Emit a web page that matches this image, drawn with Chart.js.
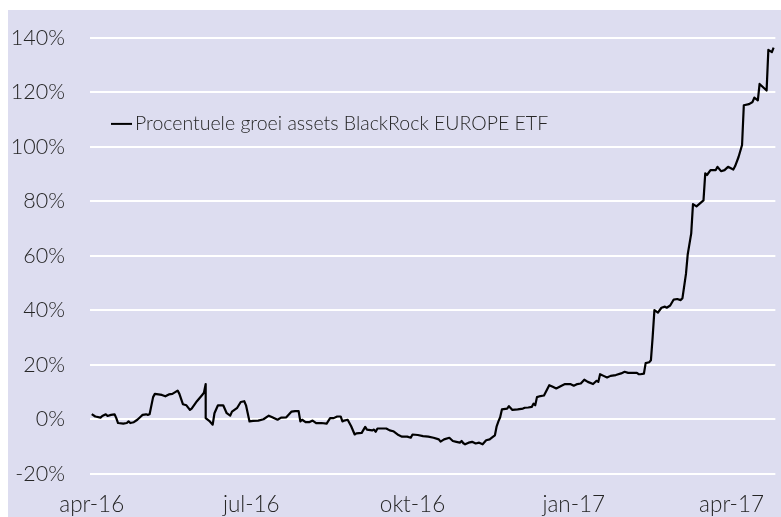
<!DOCTYPE html>
<html>
<head>
<meta charset="utf-8">
<script src="https://cdn.jsdelivr.net/npm/chart.js@4/dist/chart.umd.min.js"></script>
<style>
  html, body { margin: 0; padding: 0; background: #ffffff; }
  #wrap { width: 781px; height: 517px; }
</style>
</head>
<body>
<div id="wrap"><canvas id="c" width="781" height="517"></canvas></div>
<script>
// Days since 2016-04-01
const dayOffsets = [
  0, 2, 5, 6, 8, 9, 11, 13, 14, 15, 18, 20, 21, 22, 24, 26, 28, 29, 31, 32,
  33, 35, 36, 38, 40, 42, 44, 46, 49, 50, 52, 54, 56, 57, 60, 63, 64, 65, 65, 67,
  69, 70, 72, 75, 77, 79, 80, 83, 85, 87, 88, 90, 92, 95, 98, 101, 103, 106, 108, 111,
  114, 116, 118, 119, 120, 122, 124, 126, 128, 131, 134, 136, 138, 140, 142, 143, 144, 146, 148, 150,
  151, 154, 156, 157, 160, 161, 162, 163, 166, 168, 170, 172, 175, 177, 180, 182, 183, 186, 189, 192,
  195, 198, 199, 201, 204, 206, 208, 210, 211, 212, 213, 215, 217, 219, 221, 223, 225, 227, 229, 230,
  231, 232, 233, 234, 237, 238, 240, 243, 246, 247, 249, 251, 252, 253, 254, 256, 258, 261, 263, 265,
  268, 270, 273, 275, 277, 279, 281, 283, 286, 288, 289, 290, 292, 294, 296, 299, 302, 304, 306, 309,
  311, 312, 313, 315, 316, 318, 319, 320, 321, 323, 325, 327, 328, 330, 332, 334, 336, 337, 339, 340,
  342, 343, 345, 347, 349, 350, 351, 353, 356, 357, 359, 361, 363, 366, 367, 369, 371, 372, 375, 377,
  378, 380, 381, 383, 385, 386, 388, 389
];
// Percentage growth of assets
const growthPct = [
  2.0, 1.1, 0.7, 1.3, 1.9, 1.3, 1.7, 1.9, 0.5, -1.3, -1.5, -1.3, -0.7, -1.3, -1.0, -0.1, 1.1, 1.7, 1.9, 1.7,
  1.9, 8.2, 9.4, 9.2, 9.0, 8.5, 9.2, 9.4, 10.6, 9.4, 5.6, 5.2, 3.5, 4.0, 6.7, 9.0, 9.8, 13.0, 0.5, -0.5,
  -1.9, 2.3, 5.2, 5.2, 2.3, 1.4, 2.9, 4.3, 6.4, 6.7, 5.2, -0.7, -0.5, -0.4, 0.1, 1.4, 0.8, -0.1, 0.7, 0.8,
  2.9, 3.1, 3.1, -0.7, -0.1, -1.0, -1.0, -0.4, -1.3, -1.3, -1.5, 0.5, 0.5, 1.1, 1.1, -0.7, -0.4, -0.1, -2.5, -5.5,
  -5.1, -4.9, -2.7, -3.7, -4.0, -3.7, -4.5, -3.3, -3.3, -3.3, -4.0, -4.3, -5.7, -6.3, -6.3, -6.7, -5.5, -5.7, -6.1, -6.3,
  -6.7, -7.3, -8.1, -7.3, -6.7, -7.9, -8.2, -8.5, -7.9, -8.7, -9.1, -8.5, -8.2, -8.8, -8.5, -9.1, -7.6, -7.3, -6.3, -5.8,
  -2.5, -0.7, 0.8, 3.7, 4.0, 4.9, 3.5, 3.7, 4.0, 4.3, 4.4, 4.6, 5.8, 5.2, 8.2, 8.6, 8.8, 12.6, 12.0, 11.4,
  12.4, 13.0, 13.0, 12.4, 13.0, 13.2, 14.6, 13.8, 13.0, 14.2, 13.8, 16.6, 16.0, 15.4, 16.0, 16.3, 16.9, 17.5, 17.1, 17.1,
  17.1, 16.6, 16.6, 16.8, 20.7, 21.0, 21.7, 30.3, 40.1, 39.2, 41.0, 41.4, 41.0, 41.8, 44.0, 44.2, 43.8, 44.5, 53.4, 60.6,
  68.3, 79.0, 78.2, 79.3, 80.4, 90.3, 89.7, 91.5, 91.5, 92.7, 91.1, 91.5, 92.7, 91.7, 92.9, 96.3, 100.7, 115.3, 115.7, 116.5,
  118.1, 117.1, 123.1, 121.9, 120.7, 135.6, 134.8, 136.4
];
const tickDays = [0, 91, 183, 275, 365];
const tickLabels = ['apr-16', 'jul-16', 'okt-16', 'jan-17', 'apr-17'];
const yTicks = [-20, 0, 20, 40, 60, 80, 100, 120, 140];
const seriesLabel = 'Procentuele groei assets BlackRock EUROPE ETF';

const FONT = "Lato, 'Open Sans', 'Liberation Sans', sans-serif";
const TEXT = '#262626';
const BG = 'rgb(221,221,240)';

const bgPlugin = {
  id: 'bg',
  beforeDraw(chart) {
    const ctx = chart.ctx;
    ctx.save();
    ctx.fillStyle = '#ffffff';
    ctx.fillRect(0, 0, chart.width, chart.height);
    ctx.fillStyle = BG;
    ctx.fillRect(8, 10, chart.width - 8, chart.height - 10);
    ctx.restore();
  }
};

const legendPlugin = {
  id: 'inlineLegend',
  afterDatasetsDraw(chart) {
    const ctx = chart.ctx;
    const ca = chart.chartArea;
    const ds = chart.data.datasets[0];
    const y = ca.top + 86;
    const x0 = ca.left + 21;
    ctx.save();
    ctx.strokeStyle = ds.borderColor;
    ctx.lineWidth = 2;
    ctx.beginPath();
    ctx.moveTo(x0, y);
    ctx.lineTo(x0 + 21, y);
    ctx.stroke();
    ctx.fillStyle = TEXT;
    ctx.font = "300 19.5px " + FONT;
    ctx.textBaseline = 'middle';
    ctx.textAlign = 'left';
    ctx.fillText(ds.label, x0 + 24, y);
    ctx.restore();
  }
};

new Chart(document.getElementById('c'), {
  type: 'line',
  data: {
    datasets: [{
      label: seriesLabel,
      data: dayOffsets.map((d, i) => ({ x: d, y: growthPct[i] })),
      borderColor: '#000000',
      borderWidth: 2.2,
      pointRadius: 0,
      tension: 0,
      fill: false,
      borderJoinStyle: 'round'
    }]
  },
  options: {
    responsive: false,
    animation: false,
    devicePixelRatio: 1,
    layout: { padding: { top: 27, left: 0, right: 0, bottom: 0 } },
    plugins: { legend: { display: false }, tooltip: { enabled: false } },
    scales: {
      x: {
        type: 'linear',
        min: -1,
        max: 390,
        afterBuildTicks(axis) { axis.ticks = tickDays.map(v => ({ value: v })); },
        afterFit(axis) { axis.height = 43; },
        grid: { display: false, drawTicks: false },
        border: { display: false },
        ticks: {
          autoSkip: false,
          maxRotation: 0,
          padding: 17,
          color: TEXT,
          font: { family: FONT, size: 22.5, weight: '300' },
          callback: (v) => tickLabels[tickDays.indexOf(v)]
        }
      },
      y: {
        min: -20,
        max: 140,
        afterBuildTicks(axis) { axis.ticks = yTicks.map(v => ({ value: v })); },
        afterFit(axis) { axis.width = 90; },
        grid: { color: '#ffffff', lineWidth: 2, drawTicks: false },
        border: { display: false },
        ticks: {
          padding: 25,
          color: TEXT,
          font: { family: FONT, size: 21.5, weight: '300' },
          callback: (v) => v + '%'
        }
      }
    }
  },
  plugins: [bgPlugin, legendPlugin]
});
</script>
</body>
</html>
